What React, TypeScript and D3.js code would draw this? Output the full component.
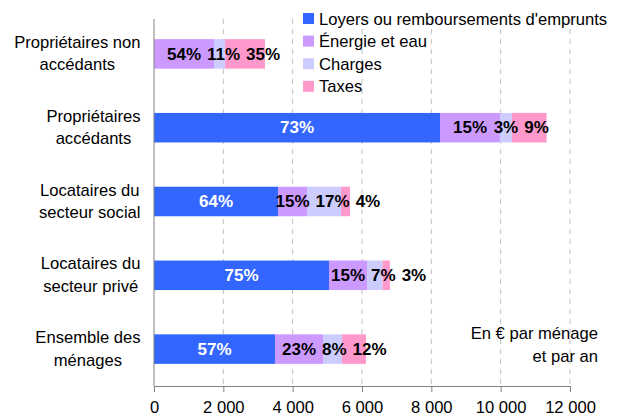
import React, { useEffect, useRef } from "react";
import * as d3 from "d3";

const categories = [
  ["Propriétaires non", "accédants"],
  ["Propriétaires", "accédants"],
  ["Locataires du", "secteur social"],
  ["Locataires du", "secteur privé"],
  ["Ensemble des", "ménages"],
];
const seriesNames = ["Loyers ou remboursements d'emprunts", "Énergie et eau", "Charges", "Taxes"];
// montants en euros par ménage et par an
const loyers = [0, 8250, 3580, 5050, 3490];
const energie = [1730, 1730, 835, 1095, 1385];
const charges = [320, 345, 980, 450, 550];
const taxes = [1150, 1000, 260, 210, 690];
// étiquettes en % affichées sur les barres
const loyersPct = ["", "73%", "64%", "75%", "57%"];
const energiePct = ["54%", "15%", "15%", "15%", "23%"];
const chargesPct = ["11%", "3%", "17%", "7%", "8%"];
const taxesPct = ["35%", "9%", "4%", "3%", "12%"];
const xTicks = [0, 2000, 4000, 6000, 8000, 10000, 12000];
const note = ["En € par ménage", "et par an"];

const colors = ["#3366ff", "#cc99ff", "#ccccff", "#ff99cc"];
const labelColors = ["#ffffff", "#000000", "#000000", "#000000"];
const font = "'Liberation Sans', Arial, sans-serif";
const fontSize = 16.6;
const width = 625;
const height = 419;
const margin = { top: 17, right: 55, bottom: 33, left: 154 };

export default function App() {
  const ref = useRef<SVGSVGElement>(null);

  useEffect(() => {
    const svg = d3.select(ref.current);
    svg.selectAll("*").remove();

    const keys = ["loyers", "energie", "charges", "taxes"];
    const rows = categories.map((c, i) => ({
      loyers: loyers[i], energie: energie[i], charges: charges[i], taxes: taxes[i],
    }));
    const pcts = [loyersPct, energiePct, chargesPct, taxesPct];
    const stacked = d3.stack<any>().keys(keys)(rows);

    const x = d3.scaleLinear()
      .domain([0, 12000])
      .range([margin.left, width - margin.right]);

    const y = d3.scaleBand<number>()
      .domain(d3.range(categories.length))
      .range([margin.top, height - margin.bottom])
      .paddingInner(0.6)
      .paddingOuter(0.3);

    const axisY = height - margin.bottom;
    const fr = d3.formatLocale({ decimal: ",", thousands: " ", grouping: [3], currency: ["", " €"] });
    const fmt = fr.format(",d");

    // grille verticale pointillée
    svg.append("g")
      .selectAll("line")
      .data(xTicks.slice(1))
      .join("line")
      .attr("x1", d => x(d)).attr("x2", d => x(d))
      .attr("y1", 19).attr("y2", axisY - 1)
      .attr("stroke", "#c0c0c0")
      .attr("stroke-dasharray", "5,5");

    // barres
    const layer = svg.append("g")
      .selectAll("g")
      .data(stacked)
      .join("g")
      .attr("fill", (d, i) => colors[i]);

    layer.selectAll("rect")
      .data(d => d)
      .join("rect")
      .attr("x", d => x(d[0]))
      .attr("width", d => x(d[1]) - x(d[0]))
      .attr("y", (d, i) => y(i)!)
      .attr("height", y.bandwidth());

    // axe vertical
    svg.append("line")
      .attr("x1", x(0)).attr("x2", x(0))
      .attr("y1", 19).attr("y2", axisY)
      .attr("stroke", "#808080");

    // axe horizontal
    const xAxis = svg.append("g")
      .attr("transform", `translate(0,${axisY})`)
      .call(d3.axisBottom(x).tickValues(xTicks).tickFormat(d => fmt(+d)).tickSize(6).tickSizeOuter(6));
    xAxis.select(".domain").attr("stroke", "#808080");
    xAxis.selectAll(".tick line").attr("stroke", "#808080");
    xAxis.selectAll(".tick text")
      .attr("y", 15)
      .attr("font-family", font)
      .attr("font-size", fontSize)
      .attr("fill", "#000");

    // étiquettes de pourcentage, centrées puis décalées si elles se chevauchent
    const labels = svg.append("g")
      .attr("font-family", font)
      .attr("font-size", 17)
      .attr("font-weight", "bold")
      .attr("text-anchor", "middle");

    categories.forEach((c, i) => {
      let prevRight = -Infinity;
      stacked.forEach((s, k) => {
        const txt = pcts[k][i];
        if (!txt) return;
        const seg = s[i];
        const t = labels.append("text")
          .attr("y", y(i)! + y.bandwidth() / 2)
          .attr("dy", "0.34em")
          .attr("fill", labelColors[k])
          .text(txt);
        const w = (t.node() as SVGTextElement).getComputedTextLength();
        let cx = (x(seg[0]) + x(seg[1])) / 2;
        if (cx - w / 2 < prevRight + 6) cx = prevRight + 6 + w / 2;
        t.attr("x", cx);
        prevRight = cx + w / 2;
      });
    });

    // libellés des catégories
    const cats = svg.append("g")
      .attr("font-family", font)
      .attr("font-size", fontSize)
      .attr("text-anchor", "middle");
    categories.forEach((lines, i) => {
      const cy = y(i)! + y.bandwidth() / 2;
      const g = cats.append("g");
      const texts = lines.map((l, j) => g.append("text")
        .attr("y", cy - 6 + j * 22.5)
        .text(l));
      const maxW = d3.max(texts, t => (t.node() as SVGTextElement).getComputedTextLength()) || 0;
      texts.forEach(t => t.attr("x", 140.5 - maxW / 2));
    });

    // légende
    const legend = svg.append("g")
      .attr("font-family", font)
      .attr("font-size", fontSize);
    seriesNames.forEach((name, i) => {
      const ly = 13 + i * 22.6;
      legend.append("rect")
        .attr("x", 303).attr("y", ly)
        .attr("width", 11).attr("height", 11)
        .attr("fill", colors[i]);
      legend.append("text")
        .attr("x", 319).attr("y", ly + 11.5)
        .text(name);
    });

    // note
    svg.append("g")
      .attr("font-family", font)
      .attr("font-size", fontSize)
      .attr("text-anchor", "end")
      .selectAll("text")
      .data(note)
      .join("text")
      .attr("x", 598)
      .attr("y", (d, i) => 339 + i * 23)
      .text(d => d);
  }, []);

  return (
    <svg
      ref={ref}
      width={width}
      height={height}
      style={{ position: "absolute", left: 0, top: 0, background: "#fff" }}
    />
  );
}
